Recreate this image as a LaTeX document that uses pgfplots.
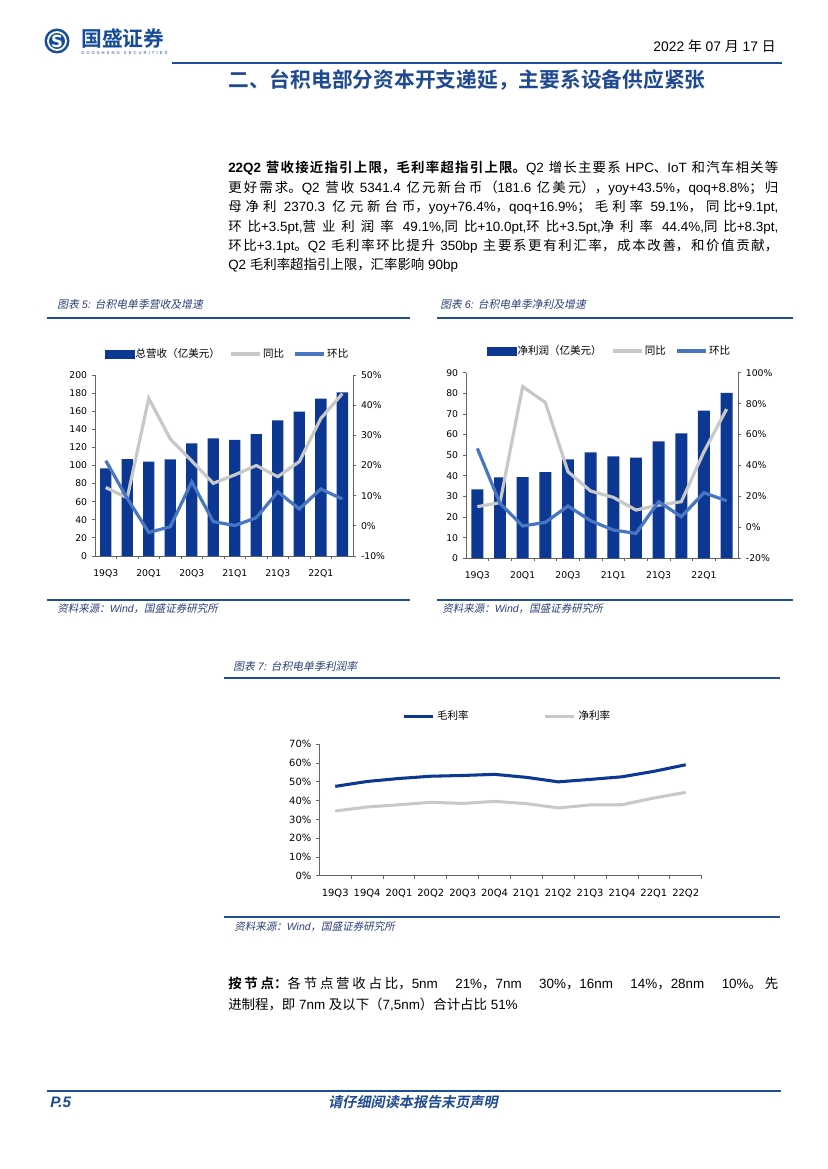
\documentclass[border=0pt]{standalone}
\usepackage{pgfplots}
\usepackage{pgfplotstable}
\pgfplotsset{compat=1.18}
\usepackage{fontspec}
\setmainfont{Liberation Sans}
\newfontfamily\tickfont{DejaVu Sans}
\newfontfamily\cjk{Noto Sans CJK SC}[BoldFont={Noto Sans CJK SC Bold},ItalicFont={Noto Sans CJK SC},ItalicFeatures={FakeSlant=0.2},BoldItalicFont={Noto Sans CJK SC Bold},BoldItalicFeatures={FakeSlant=0.2}]

% CJK runs switch to the CJK family automatically
\XeTeXinterchartokenstate=1
\chardef\CJKcls=1
\newcount\mycc
\def\setcls#1#2{\mycc=#1\relax\loop\XeTeXcharclass\mycc=\CJKcls\relax\ifnum\mycc<#2\relax\advance\mycc by 1\relax\repeat}
\setcls{"3000}{"303F}
\setcls{"4E00}{"9FFF}
\setcls{"FF00}{"FFEF}
\XeTeXinterchartoks 0 \CJKcls = {\begingroup\cjk}
\XeTeXinterchartoks 4095 \CJKcls = {\begingroup\cjk}
\XeTeXinterchartoks \CJKcls 0 = {\endgroup}
\XeTeXinterchartoks \CJKcls 4095 = {\endgroup}
\XeTeXlinebreaklocale "zh"
\XeTeXlinebreakskip=0pt plus 1.5pt minus 0.3pt

\definecolor{barblue}{RGB}{12,56,148}
\definecolor{lineblue}{RGB}{72,118,194}
\definecolor{linegray}{RGB}{200,200,200}
\definecolor{ruleblue}{RGB}{31,78,150}
\definecolor{titleblue}{RGB}{31,73,145}
\definecolor{capc}{RGB}{45,65,120}
\definecolor{axc}{RGB}{100,100,100}
\definecolor{logoblue}{RGB}{20,75,155}

% revenue (100M USD), yoy %, qoq %
\pgfplotstableread{
x rev yoy qoq
0 96.9 12.7 21.6
1 107.2 9.3 9.1
2 104.2 42.3 -2.2
3 106.8 28.8 -0.3
4 124.5 21.5 14.6
5 130.0 14.1 1.4
6 128.2 16.9 0.1
7 134.8 20.0 2.7
8 149.9 16.3 11.3
9 159.5 21.3 5.6
10 173.8 35.6 12.2
11 180.8 43.8 8.9
}\revtab

% net profit (100M USD), yoy %, qoq %
\pgfplotstableread{
x np yoy qoq
0 33.4 13.4 51.1
1 39.2 16.0 15.5
2 39.4 91.0 0.9
3 41.8 80.8 3.2
4 48.0 36.0 13.8
5 51.4 23.5 4.3
6 49.4 19.4 -1.7
7 48.8 11.2 -3.9
8 56.7 14.4 16.6
9 60.6 16.6 6.9
10 71.6 48.9 22.4
11 80.3 76.5 17.2
}\nptab

% gross margin, net margin %
\pgfplotstableread{
x gm nm
0 47.6 34.5
1 50.2 36.6
2 51.8 37.8
3 53.0 39.1
4 53.4 38.5
5 54.0 39.6
6 52.4 38.4
7 50.0 36.1
8 51.3 37.7
9 52.7 37.8
10 55.6 41.4
11 59.1 44.4
}\margtab

\pgfplotsset{
  tsmc/.style={scale only axis, xmin=-0.5, xmax=11.5,
    axis line style={draw=axc, line width=0.6bp},
    tick style={draw=axc, line width=0.6bp}, tick align=outside, major tick length=2.2bp,
    /pgf/number format/assume math mode=true,
    ticklabel style={font=\tickfont\fontsize{6.7}{8}\selectfont},
    clip=false},
  leftax/.style={axis x line*=bottom, axis y line*=left,
    xtick={0.5,1.5,...,10.5}, xticklabels={},
    extra x ticks={0,2,...,10},
    extra x tick labels={19Q3,20Q1,20Q3,21Q1,21Q3,22Q1},
    extra x tick style={major tick length=0pt, xticklabel style={yshift=-6bp}}},
  rightax/.style={axis x line=none, axis y line*=right, xtick=\empty,
    yticklabel={\pgfmathprintnumber{\tick}\%},
    legend columns=3, legend cell align=left,
    legend image code/.code={\draw[##1, line cap=butt] (0bp,0bp) -- (21bp,0bp);},
    legend style={draw=none, fill=none, inner sep=0pt,
      font=\fontsize{7.6}{9}\selectfont, nodes={inner sep=0.9bp},
      /tikz/every even column/.append style={column sep=6bp}}},
  barimg/.style={legend image code/.code={\fill[barblue] (0bp,-2.9bp) rectangle (21bp,2.9bp);}}
}

\begin{document}
\begin{tikzpicture}
\begin{scope}[x=0.72bp,y=-0.72bp]
\fill[white] (0,0) rectangle (827,1169);

% header
\fill[logoblue] (57,41) circle (12.5);
\draw[white, line width=1.3bp] (57,41) circle (9);
\node[text=white, font=\tickfont\bfseries\fontsize{12}{12}\selectfont] at (57,41.5) {S};
\node[anchor=base west, inner sep=0, text=logoblue, font=\fontsize{15}{15}\selectfont\bfseries] at (81,47) {国盛证券};
\node[anchor=base west, inner sep=0, text=logoblue, font=\fontsize{3}{3}\selectfont] at (81,55) {\makebox[62bp][s]{G U O S H E N G \ S E C U R I T I E S}};
\node[anchor=base east, inner sep=0, font=\fontsize{10}{12}\selectfont] at (776,52) {2022 年 07 月 17 日};
\draw[ruleblue, line width=1.5bp] (172,63) -- (782,63);
\node[anchor=base west, inner sep=0, text=titleblue, font=\fontsize{15}{18}\selectfont\bfseries] at (228,88) {二、台积电部分资本开支递延，主要系设备供应紧张};

% body text
\node[anchor=base west, inner sep=0, text width=396bp, align=justify, font=\fontsize{9.7}{14}\selectfont] at (228,173)
{\textbf{22Q2 营收接近指引上限，毛利率超指引上限。}Q2 增长主要系 HPC、IoT 和汽车相关等\linebreak
更好需求。Q2 营收 5341.4 亿元新台币（181.6 亿美元），yoy+43.5\%，qoq+8.8\%；归\linebreak
母净利 2370.3 亿元新台币，yoy+76.4\%，qoq+16.9\%；毛利率 59.1\%，同比+9.1pt,\linebreak
环比+3.5pt,营业利润率 49.1\%,同比+10.0pt,环比+3.5pt,净利率 44.4\%,同比+8.3pt,\linebreak
环比+3.1pt。Q2 毛利率环比提升 350bp 主要系更有利汇率，成本改善，和价值贡献，\linebreak
Q2 毛利率超指引上限，汇率影响 90bp};

% captions and rules
\node[anchor=base west, inner sep=0, text=capc, font=\fontsize{7.8}{9}\selectfont\itshape] at (57,309) {图表 5: 台积电单季营收及增速};
\node[anchor=base west, inner sep=0, text=capc, font=\fontsize{7.8}{9}\selectfont\itshape] at (440,309) {图表 6: 台积电单季净利及增速};
\draw[ruleblue, line width=1.5bp] (47,318) -- (410,318);
\draw[ruleblue, line width=1.5bp] (437,318) -- (793,318);
\draw[ruleblue, line width=1.5bp] (47,600) -- (410,600);
\draw[ruleblue, line width=1.5bp] (437,600) -- (793,600);
\node[anchor=base west, inner sep=0, text=capc, font=\fontsize{7.6}{9}\selectfont\itshape] at (57,612) {资料来源：Wind，国盛证券研究所};
\node[anchor=base west, inner sep=0, text=capc, font=\fontsize{7.6}{9}\selectfont\itshape] at (442,612) {资料来源：Wind，国盛证券研究所};

\node[anchor=base west, inner sep=0, text=capc, font=\fontsize{7.8}{9}\selectfont\itshape] at (233,670) {图表 7: 台积电单季利润率};
\draw[ruleblue, line width=1.5bp] (224,678) -- (780,678);
\draw[ruleblue, line width=1.5bp] (224,917) -- (780,917);
\node[anchor=base west, inner sep=0, text=capc, font=\fontsize{7.6}{9}\selectfont\itshape] at (234,930) {资料来源：Wind，国盛证券研究所};

% closing text
\node[anchor=base west, inner sep=0, text width=396bp, align=justify, font=\fontsize{9.7}{15.5}\selectfont] at (228,988)
{\textbf{按节点：}各节点营收占比，5nm\hspace{1.3em}21\%，7nm\hspace{1.3em}30\%，16nm\hspace{1.3em}14\%，28nm\hspace{1.3em}10\%。先\linebreak
进制程，即 7nm 及以下（7,5nm）合计占比 51\%};

% footer
\draw[ruleblue, line width=1.5bp] (47,1091) -- (781,1091);
\node[anchor=base west, inner sep=0, text=titleblue, font=\fontsize{11}{12}\selectfont\bfseries\itshape] at (50,1107) {P.5};
\node[anchor=base, inner sep=0, text=titleblue, font=\fontsize{10.2}{11}\selectfont\bfseries\itshape] at (413,1107) {请仔细阅读本报告末页声明};
\end{scope}

% chart 5
\begin{axis}[tsmc, leftax, at={({95*0.72bp},{-556*0.72bp})}, anchor=south west, width=185.8bp, height=130.3bp,
  ymin=0, ymax=200, ytick={0,20,...,200}]
\addplot[ybar, bar width=8.2bp, fill=barblue, draw=none] table[x=x, y=rev] {\revtab};
\end{axis}
\begin{axis}[tsmc, rightax, at={({95*0.72bp},{-556*0.72bp})}, anchor=south west, width=185.8bp, height=130.3bp,
  ymin=-10, ymax=50, ytick={-10,0,...,50},
  legend style={at={(0.512,1.116)}, anchor=center}]
\addlegendimage{barimg}
\addlegendentry{总营收（亿美元）}
\addplot[color=linegray, line width=2.3bp, mark=none] table[x=x, y=yoy] {\revtab};
\addlegendentry{同比}
\addplot[color=lineblue, line width=2.3bp, mark=none] table[x=x, y=qoq] {\revtab};
\addlegendentry{环比}
\end{axis}

% chart 6
\begin{axis}[tsmc, leftax, at={({466*0.72bp},{-558.3*0.72bp})}, anchor=south west, width=195.8bp, height=133.6bp,
  ymin=0, ymax=90, ytick={0,10,...,90}]
\addplot[ybar, bar width=8.6bp, fill=barblue, draw=none] table[x=x, y=np] {\nptab};
\end{axis}
\begin{axis}[tsmc, rightax, at={({466*0.72bp},{-558.3*0.72bp})}, anchor=south west, width=195.8bp, height=133.6bp,
  ymin=-20, ymax=100, ytick={-20,0,...,100},
  legend style={at={(0.526,1.117)}, anchor=center}]
\addlegendimage{barimg}
\addlegendentry{净利润（亿美元）}
\addplot[color=linegray, line width=2.3bp, mark=none] table[x=x, y=yoy] {\nptab};
\addlegendentry{同比}
\addplot[color=lineblue, line width=2.3bp, mark=none] table[x=x, y=qoq] {\nptab};
\addlegendentry{环比}
\end{axis}

% chart 7
\begin{axis}[tsmc, at={({319.3*0.72bp},{-875.7*0.72bp})}, anchor=south west, width=275.3bp, height=94.6bp,
  axis x line*=bottom, axis y line*=left,
  ticklabel style={font=\tickfont\fontsize{7.2}{8}\selectfont},
  xtick={0.5,1.5,...,11.5}, xticklabels={},
  extra x ticks={0,1,...,11},
  extra x tick labels={19Q3,19Q4,20Q1,20Q2,20Q3,20Q4,21Q1,21Q2,21Q3,21Q4,22Q1,22Q2},
  extra x tick style={major tick length=0pt, xticklabel style={yshift=-6bp}},
  ymin=0, ymax=70, ytick={0,10,...,70}, yticklabel={\pgfmathprintnumber{\tick}\%},
  legend columns=2, legend cell align=left,
  legend image code/.code={\draw[#1, line cap=butt] (0bp,0bp) -- (21bp,0bp);},
  legend style={draw=none, fill=none, inner sep=0pt, at={(0.492,1.215)}, anchor=center,
    font=\fontsize{7.6}{9}\selectfont,
    /tikz/every even column/.append style={column sep=52bp}}]
\addplot[color=barblue, line width=2.2bp, mark=none] table[x=x, y=gm] {\margtab};
\addlegendentry{毛利率}
\addplot[color=linegray, line width=2.2bp, mark=none] table[x=x, y=nm] {\margtab};
\addlegendentry{净利率}
\end{axis}
\end{tikzpicture}
\end{document}
